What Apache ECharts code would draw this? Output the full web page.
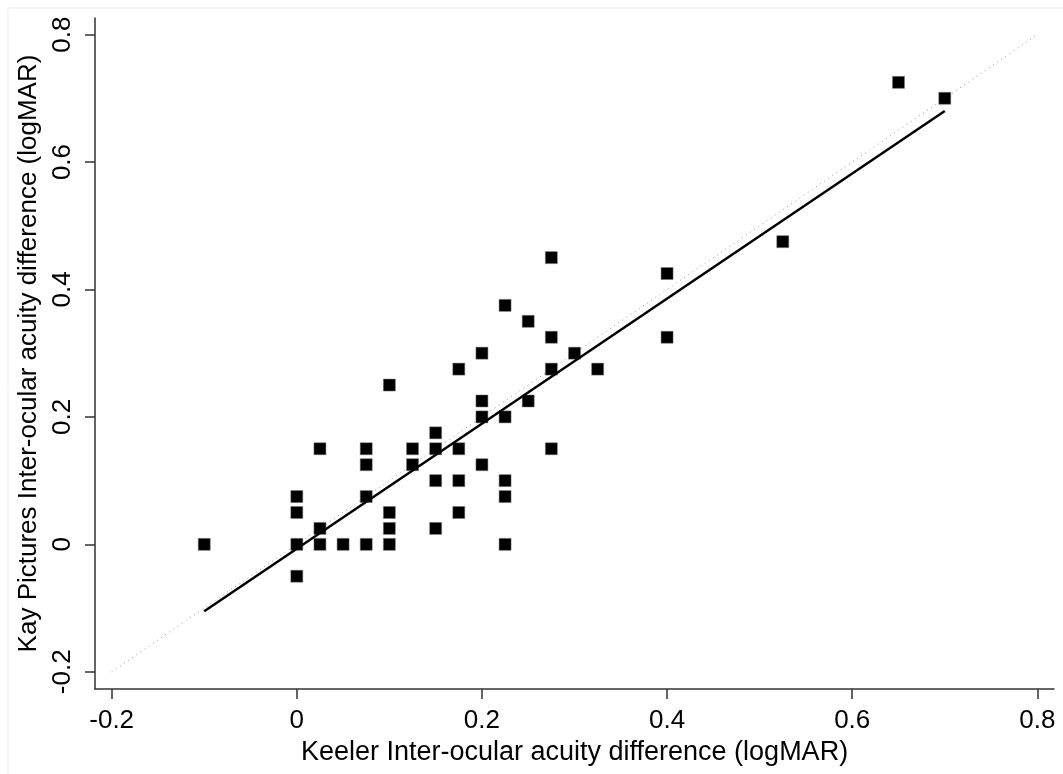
<!DOCTYPE html>
<html>
<head>
<meta charset="utf-8">
<title>Keeler vs Kay Pictures</title>
<script src="https://cdn.jsdelivr.net/npm/echarts@6/dist/echarts.min.js"></script>
<style>
  html, body { margin: 0; padding: 0; background: #fff; }
  #chart { width: 1063px; height: 774px; }
</style>
</head>
<body>
<div id="chart"></div>
<script>
// Keeler inter-ocular difference (x) vs Kay Pictures (y), logMAR
var keeler = [-0.1, 0, 0, 0, 0, 0.025, 0.025, 0.025, 0.05, 0.075, 0.075, 0.075, 0.075,
  0.1, 0.1, 0.1, 0.1, 0.125, 0.125, 0.15, 0.15, 0.15, 0.15, 0.175, 0.175, 0.175, 0.175,
  0.2, 0.2, 0.2, 0.2, 0.225, 0.225, 0.225, 0.225, 0.225, 0.25, 0.25,
  0.275, 0.275, 0.275, 0.275, 0.3, 0.325, 0.4, 0.4, 0.525, 0.65, 0.7];
var kay = [0, 0.075, 0.05, 0, -0.05, 0.15, 0.025, 0, 0, 0.15, 0.125, 0.075, 0,
  0.25, 0.05, 0.025, 0, 0.15, 0.125, 0.175, 0.15, 0.1, 0.025, 0.275, 0.15, 0.1, 0.05,
  0.3, 0.225, 0.2, 0.125, 0.375, 0.2, 0.1, 0.075, 0, 0.35, 0.225,
  0.45, 0.325, 0.275, 0.15, 0.3, 0.275, 0.425, 0.325, 0.475, 0.725, 0.7];

// fitted line and line of equality end points
var fitX = [-0.1, 0.7];
var fitY = [-0.105, 0.68];
var equalX = [-0.2, 0.8];
var equalY = [-0.2, 0.8];

var tickValues = [-0.2, 0, 0.2, 0.4, 0.6, 0.8];

var points = [];
for (var i = 0; i < keeler.length; i++) {
  points.push([keeler[i], kay[i]]);
}
var fitLine = [[fitX[0], fitY[0]], [fitX[1], fitY[1]]];
var equalLine = [[equalX[0], equalY[0]], [equalX[1], equalY[1]]];

var fontFam = '"Liberation Sans", Arial, sans-serif';

function fmt(v) {
  if (Math.abs(v) < 1e-9) return '0';
  return String(Math.round(v * 10) / 10);
}

var chart = echarts.init(document.getElementById('chart'));
var option = {
  backgroundColor: '#fff',
  animation: false,
  textStyle: { fontFamily: fontFam },
  graphic: [{
    type: 'rect',
    shape: { x: 8, y: 8, width: 1070, height: 780 },
    style: { fill: 'none', stroke: '#e9eef1', lineWidth: 1 },
    silent: true
  }],
  grid: { left: 95, right: 9, top: 18, bottom: 85 },
  xAxis: {
    type: 'value',
    min: -0.218,
    max: 0.818,
    name: 'Keeler Inter-ocular acuity difference (logMAR)',
    nameLocation: 'middle',
    nameGap: 45,
    nameTextStyle: { color: '#000', fontSize: 27, fontFamily: fontFam },
    splitLine: { show: false },
    axisLine: { show: true, onZero: false, lineStyle: { color: '#333', width: 1.5 } },
    axisTick: { show: true, length: 10, customValues: tickValues, lineStyle: { color: '#333', width: 1.5 } },
    axisLabel: { color: '#000', fontSize: 26, margin: 19, customValues: tickValues, formatter: fmt }
  },
  yAxis: {
    type: 'value',
    min: -0.227,
    max: 0.826,
    name: 'Kay Pictures Inter-ocular acuity difference (logMAR)',
    nameLocation: 'middle',
    nameGap: 49,
    nameTextStyle: { color: '#000', fontSize: 26, fontFamily: fontFam },
    splitLine: { show: false },
    axisLine: { show: true, onZero: false, lineStyle: { color: '#333', width: 1.5 } },
    axisTick: { show: true, length: 10, customValues: tickValues, lineStyle: { color: '#333', width: 1.5 } },
    axisLabel: { color: '#000', fontSize: 26, margin: 19, rotate: 90, customValues: tickValues, formatter: fmt }
  },
  series: [
    {
      type: 'line',
      data: equalLine,
      symbol: 'none',
      lineStyle: { color: '#999', width: 1, type: [1, 4] },
      z: 1
    },
    {
      type: 'line',
      data: fitLine,
      symbol: 'none',
      lineStyle: { color: '#000', width: 2.5 },
      z: 3
    },
    {
      type: 'scatter',
      data: points,
      symbol: 'rect',
      symbolSize: 12,
      itemStyle: { color: '#000', borderColor: '#777', borderWidth: 0.5, opacity: 1 },
      z: 2
    }
  ]
};
chart.setOption(option);
</script>
</body>
</html>
